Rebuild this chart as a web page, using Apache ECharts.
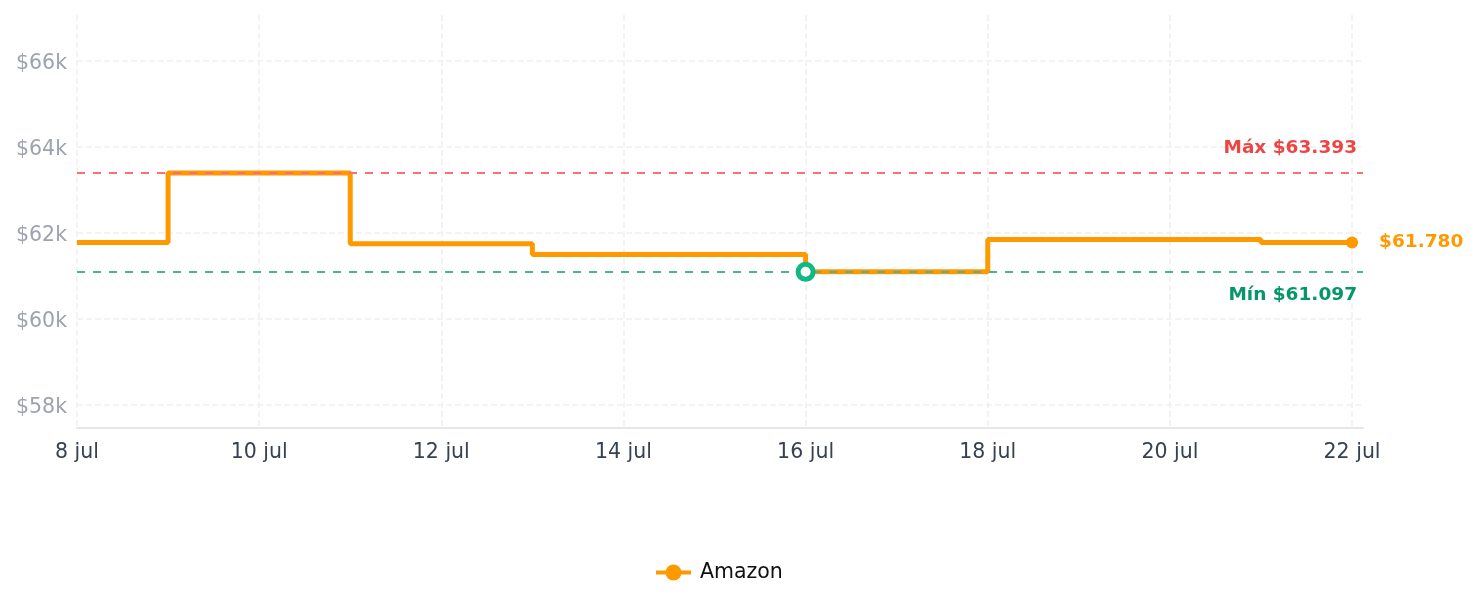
<!DOCTYPE html>
<html>
<head>
<meta charset="utf-8">
<script src="https://cdn.jsdelivr.net/npm/echarts@6/dist/echarts.min.js"></script>
<style>
html,body{margin:0;padding:0;background:#fff;}
#chart{width:1478px;height:607px;}
</style>
</head>
<body>
<div id="chart"></div>
<script>
const days = [8, 9, 10, 11, 12, 13, 14, 15, 16, 17, 18, 19, 20, 21, 22];
const amazon = [61780, 63393, 63393, 61750, 61750, 61500, 61500, 61500, 61097, 61097, 61850, 61850, 61850, 61780, 61780];
const xTicks = [8, 10, 12, 14, 16, 18, 20, 22];
const yTicks = [58000, 60000, 62000, 64000, 66000];
const seriesName = 'Amazon';
const maxVal = 63393, minVal = 61097, lastVal = 61780;
const minDay = 16, lastDay = 22;

function fmtPrice(v){
  const s = String(Math.round(v));
  return '$' + s.replace(/\B(?=(\d{3})+(?!\d))/g, '.');
}

const chart = echarts.init(document.getElementById('chart'));
const FONT = 'DejaVu Sans';
chart.setOption({
  animation: false,
  textStyle: { fontFamily: FONT },
  grid: { left: 77, right: 115, top: 15, bottom: 179, containLabel: false },
  legend: {
    bottom: 19, left: 649,
    itemWidth: 35, itemHeight: 20,
    lineStyle: { width: 4 },
    textStyle: { fontSize: 20.5, color: '#111', fontFamily: FONT, padding: [0, 0, 0, 4] },
    data: [seriesName]
  },
  xAxis: {
    type: 'value', min: 8, max: 22.12,
    axisLine: { show: true, lineStyle: { color: '#e5e7eb', width: 2 } },
    axisTick: { show: false, customValues: xTicks },
    axisLabel: { customValues: xTicks, color: '#374151', fontSize: 20.5, margin: 14, fontFamily: FONT,
      formatter: v => v + ' jul' },
    splitLine: { show: true, lineStyle: { color: '#f0f0f0', type: 'dashed', width: 1.5 } }
  },
  yAxis: {
    type: 'value', min: 57465, max: 67070,
    axisLine: { show: false },
    axisTick: { show: false, customValues: yTicks },
    axisLabel: { customValues: yTicks, color: '#9ca3af', fontSize: 20.5, margin: 10, fontFamily: FONT,
      formatter: v => '{t|$' + (v / 1000) + 'k}',
      rich: { t: { color: '#9ca3af', fontSize: 20.5, fontFamily: FONT, padding: [5, 0, 0, 0] } } },
    splitLine: { show: true, lineStyle: { color: '#f0f0f0', type: 'dashed', width: 1.5 } }
  },
  series: [{
    name: seriesName, type: 'line', step: 'end',
    data: days.map((d, i) => [d, amazon[i]]),
    symbol: 'circle', symbolSize: 12, showSymbol: false,
    lineStyle: { color: '#ff9900', width: 5 },
    itemStyle: { color: '#ff9900' },
    markLine: {
      silent: true, symbol: ['none', 'none'],
      data: [
        { yAxis: maxVal, lineStyle: { color: '#f87171', type: [8, 8], width: 2 },
          label: { position: 'insideEndTop', formatter: 'Máx ' + fmtPrice(maxVal), color: '#ef4444', fontWeight: 'bold', fontSize: 18.5, fontFamily: FONT, distance: [6, 15] } },
        { yAxis: minVal, lineStyle: { color: '#4cb38a', type: [8, 8], width: 2 },
          label: { position: 'insideEndBottom', formatter: 'Mín ' + fmtPrice(minVal), color: '#059669', fontWeight: 'bold', fontSize: 18.5, fontFamily: FONT, distance: [6, 14] } }
      ]
    },
    markPoint: {
      silent: true,
      data: [
        { coord: [minDay, minVal], symbol: 'circle', symbolSize: 15,
          itemStyle: { color: '#ffffff', borderColor: '#10b981', borderWidth: 5 }, label: { show: false } },
        { coord: [lastDay, lastVal], symbol: 'circle', symbolSize: 12,
          itemStyle: { color: '#ff9900' },
          label: { show: true, position: 'right', distance: 21, formatter: fmtPrice(lastVal), color: '#ff9900', fontWeight: 'bold', fontSize: 18.5, fontFamily: FONT } }
      ]
    }
  }]
});
</script>
</body>
</html>
